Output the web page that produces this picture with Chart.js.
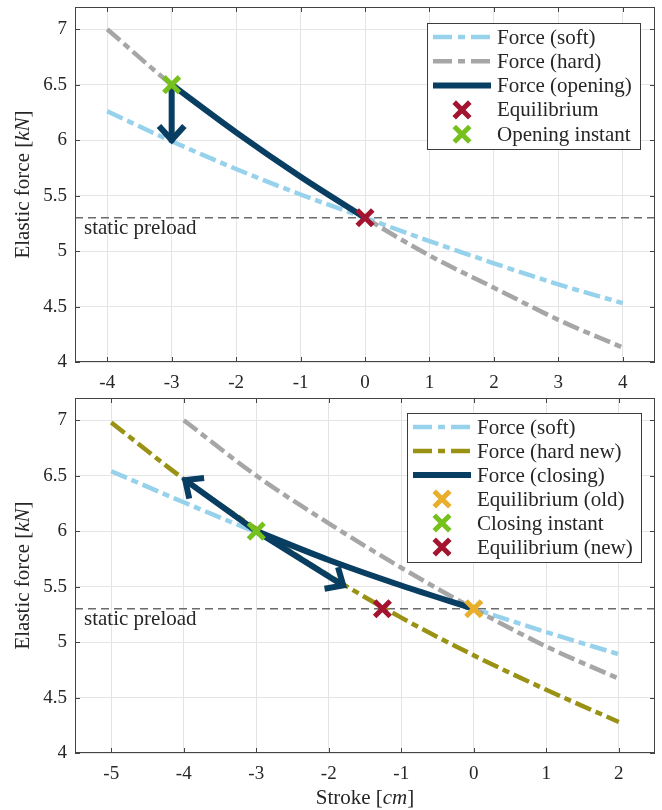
<!DOCTYPE html>
<html><head><meta charset="utf-8">
<script src="https://cdn.jsdelivr.net/npm/chart.js@4/dist/chart.umd.min.js"></script>
<style>
html,body{margin:0;padding:0;background:#fff;}
#wrap{position:relative;width:662px;height:810px;background:#fff;}
#c1{position:absolute;left:0;top:0;}
#c2{position:absolute;left:0;top:395px;}
</style></head><body>
<div id="wrap"><canvas id="c1" width="662" height="395"></canvas><canvas id="c2" width="662" height="415"></canvas></div>
<script>
// ---------- data ----------
const yRange = [4, 7.2];
const yTicks = [4, 4.5, 5, 5.5, 6, 6.5, 7];
const preloadForce = 5.3;

// top panel (opening)
const xRangeTop = [-4.5, 4.5];
const xTicksTop = [-4, -3, -2, -1, 0, 1, 2, 3, 4];
const strokeTop = [-4, -3, -2, -1, 0, 1, 2, 3, 4];
const softTop = [6.26, 5.99, 5.74, 5.51, 5.30, 5.09, 4.89, 4.70, 4.53];
const hardTop = [7.00, 6.50, 6.07, 5.67, 5.30, 4.96, 4.67, 4.38, 4.13];
const openingStroke = [-3, -2, -1, 0];
const openingForce = [6.50, 6.07, 5.67, 5.30];
const openArrowStroke = [-3, -3];
const openArrowForce = [6.50, 6.00];
const equilibriumTop = [0, 5.30];
const openingInstant = [-3, 6.50];

// bottom panel (closing)
const xRangeBottom = [-5.5, 2.5];
const xTicksBottom = [-5, -4, -3, -2, -1, 0, 1, 2];
const strokeBottom = [-5, -4, -3, -2, -1, 0, 1, 2];
const softBottom = [6.54, 6.26, 5.99, 5.74, 5.51, 5.30, 5.09, 4.89];
const hardBottomStroke = [-4, -3, -2, -1, 0, 1, 2];
const hardBottom = [7.00, 6.50, 6.07, 5.67, 5.30, 4.96, 4.67];
const hardNew = [6.98, 6.47, 6.02, 5.60, 5.22, 4.88, 4.57, 4.28];
const closingStroke = [-3, -2, -1, 0];
const closingForce = [6.00, 5.74, 5.51, 5.30];
const closeArrow1Stroke = [-3, -3.98];
const closeArrow1Force = [6.00, 6.46];
const closeArrow2Stroke = [-3, -1.80];
const closeArrow2Force = [6.00, 5.51];
const equilibriumOld = [0, 5.30];
const closingInstant = [-3, 6.00];
const equilibriumNew = [-1.26, 5.30];

// ---------- styling ----------
const FONT = '"Liberation Serif", "Times New Roman", serif';
const C = {soft:'#97D2EC', hard:'#A6A6A6', dark:'#093E63', red:'#A2142F', green:'#77C11E',
           orange:'#E8AE2C', olive:'#9A9214', pre:'#6b6b6b', axis:'#444444', grid:'#e4e4e4', text:'#262626'};
const DASHDOT = [17, 5, 7, 5];

function xy(xs, ys){ return xs.map((x,i)=>({x:x, y:ys[i]})); }
function lineDS(label, data, color, width, dash, rank, extra){
  return Object.assign({label, data, borderColor:color, backgroundColor:color, borderWidth:width,
    borderDash:dash||[], borderCapStyle:'butt', borderJoinStyle:'round', pointRadius:0, pointHoverRadius:0, fill:false,
    cubicInterpolationMode:'monotone', legendRank:rank}, extra||{});
}
function markerDS(label, pt, color, rank){
  return {label, data:[{x:pt[0], y:pt[1]}], showLine:false, pointStyle:'crossRot', pointRadius:11,
    pointHoverRadius:11, pointBorderWidth:5, pointHoverBorderWidth:5, pointBorderColor:color, pointBackgroundColor:color,
    borderColor:color, legendRank:rank, isMarker:true};
}
function withOrder(list){ list.forEach((d,i)=>{ d.order = -i; }); return list; }

// arrow heads drawn right after their dataset, in scale coordinates
const arrowPlugin = {
  id:'arrowHeads',
  afterDatasetDraw(chart, args){
    const ds = chart.data.datasets[args.index];
    if (!ds.arrowHead) return;
    const xs = chart.scales.x, ys = chart.scales.y;
    const p0 = ds.data[ds.data.length-2], p1 = ds.data[ds.data.length-1];
    const x0 = xs.getPixelForValue(p0.x), y0 = ys.getPixelForValue(p0.y);
    const x1 = xs.getPixelForValue(p1.x), y1 = ys.getPixelForValue(p1.y);
    let dx = x0-x1, dy = y0-y1; const L = Math.hypot(dx,dy); dx/=L; dy/=L;
    const a = 42*Math.PI/180, len = 19;
    const r = (ang)=>({x: dx*Math.cos(ang)-dy*Math.sin(ang), y: dx*Math.sin(ang)+dy*Math.cos(ang)});
    const u = r(a), v = r(-a);
    const ctx = chart.ctx;
    ctx.save();
    ctx.strokeStyle = ds.borderColor; ctx.lineWidth = ds.borderWidth;
    ctx.lineJoin = 'miter'; ctx.lineCap = 'butt'; ctx.setLineDash([]);
    ctx.beginPath();
    ctx.moveTo(x1+u.x*len, y1+u.y*len); ctx.lineTo(x1, y1); ctx.lineTo(x1+v.x*len, y1+v.y*len);
    ctx.stroke();
    ctx.restore();
  }
};

function drawMixed(ctx, parts, x, y, align){
  let total = 0;
  parts.forEach(p=>{ ctx.font = p[1]; p.w = ctx.measureText(p[0]).width; total += p.w; });
  let cx = align==='center' ? x - total/2 : x;
  ctx.textAlign = 'left';
  parts.forEach(p=>{ ctx.font = p[1]; ctx.fillText(p[0], cx, y); cx += p.w; });
}

const decoPlugin = {
  id:'deco',
  afterDatasetsDraw(chart, args, opts){
    const ctx = chart.ctx, ca = chart.chartArea, xs = chart.scales.x, ys = chart.scales.y;
    ctx.save();
    // box and inward ticks
    ctx.strokeStyle = C.axis; ctx.lineWidth = 1; ctx.setLineDash([]);
    ctx.strokeRect(Math.round(ca.left)+0.5, Math.round(ca.top)+0.5, Math.round(ca.right-ca.left)-1, Math.round(ca.bottom-ca.top)-1);
    ctx.beginPath();
    xs.ticks.forEach(t=>{ const px = Math.round(xs.getPixelForValue(t.value))+0.5;
      ctx.moveTo(px, ca.bottom); ctx.lineTo(px, ca.bottom-5); ctx.moveTo(px, ca.top); ctx.lineTo(px, ca.top+5); });
    ys.ticks.forEach(t=>{ const py = Math.round(ys.getPixelForValue(t.value))+0.5;
      ctx.moveTo(ca.left, py); ctx.lineTo(ca.left+5, py); ctx.moveTo(ca.right, py); ctx.lineTo(ca.right-5, py); });
    ctx.stroke();
    // preload label
    ctx.fillStyle = C.text; ctx.font = '21px ' + FONT; ctx.textBaseline = 'alphabetic'; ctx.textAlign = 'left';
    ctx.fillText('static preload', ca.left + 9, ys.getPixelForValue(preloadForce) + 16);
    // y title
    ctx.save();
    ctx.translate(28.5, (ca.top+ca.bottom)/2);
    ctx.rotate(-Math.PI/2);
    drawMixed(ctx, [['Elastic force [', '21px '+FONT], ['kN', 'italic 21px '+FONT], [']', '21px '+FONT]], 0, 0, 'center');
    ctx.restore();
    if (opts.xTitle){
      drawMixed(ctx, [['Stroke [', '21px '+FONT], ['cm', 'italic 21px '+FONT], [']', '21px '+FONT]],
        (ca.left+ca.right)/2, opts.xTitleY, 'center');
    }
    ctx.restore();
  }
};

const legendPlugin = {
  id:'mlegend',
  afterDatasetsDraw(chart, args, o){
    const ctx = chart.ctx, ca = chart.chartArea;
    const items = chart.data.datasets.filter(d=>d.legendRank!=null).sort((a,b)=>a.legendRank-b.legendRank);
    ctx.save();
    ctx.font = '21px ' + FONT;
    const maxW = Math.max(...items.map(d=>ctx.measureText(d.label).width));
    const padL = 6, sampleL = 58, gap = 6, padR = 8;
    const w = Math.round(padL + sampleL + gap + maxW + padR);
    const right = Math.round(ca.right - o.offsetRight);
    const left = right - w;
    const top = Math.round(ca.top + o.offsetTop);
    const h = Math.round(o.padTop + o.rowH*(items.length-1) + o.padBottom);
    ctx.fillStyle = '#fff'; ctx.fillRect(left, top, w, h);
    ctx.strokeStyle = '#3c3c3c'; ctx.lineWidth = 1; ctx.setLineDash([]);
    ctx.strokeRect(left+0.5, top+0.5, w, h);
    items.forEach((d,i)=>{
      const cy = top + o.padTop + i*o.rowH;
      const sx = left + padL;
      if (d.isMarker){
        const cx = sx + sampleL/2, s = 11*Math.SQRT1_2;
        ctx.strokeStyle = d.pointBorderColor; ctx.lineWidth = 5; ctx.lineCap = 'butt'; ctx.setLineDash([]);
        ctx.beginPath(); ctx.moveTo(cx-s, cy-s); ctx.lineTo(cx+s, cy+s); ctx.moveTo(cx-s, cy+s); ctx.lineTo(cx+s, cy-s); ctx.stroke();
      } else {
        ctx.strokeStyle = d.borderColor; ctx.lineWidth = d.borderWidth; ctx.lineCap = 'butt'; ctx.setLineDash([19, 6, 7, 6]);
        if (!d.borderDash || !d.borderDash.length) ctx.setLineDash([]);
        ctx.beginPath(); ctx.moveTo(sx, cy); ctx.lineTo(sx+sampleL, cy); ctx.stroke();
      }
      ctx.setLineDash([]);
      ctx.fillStyle = C.text; ctx.font = '21px ' + FONT; ctx.textBaseline = 'middle'; ctx.textAlign = 'left';
      ctx.fillText(d.label, sx + sampleL + gap, cy + 1);
    });
    ctx.restore();
  }
};

function zeroPad(s){ s.paddingTop = 0; s.paddingBottom = 0; s.paddingLeft = 0; s.paddingRight = 0; }

function makeChart(id, datasets, xr, xt, pad, xAxisH, legendOpts, decoOpts){
  return new Chart(document.getElementById(id), {
    type:'line',
    data:{datasets},
    options:{
      responsive:false, animation:false, events:[],
      layout:{padding:pad, autoPadding:false},
      plugins:{legend:{display:false}, tooltip:{enabled:false}, mlegend:legendOpts, deco:decoOpts},
      scales:{
        x:{type:'linear', min:xr[0], max:xr[1],
           afterBuildTicks:s=>{ s.ticks = xt.map(v=>({value:v})); },
           afterFit:s=>{ s.height = xAxisH; zeroPad(s); },
           grid:{color:C.grid, drawTicks:false, lineWidth:1}, border:{display:false},
           ticks:{font:{family:FONT, size:19}, color:C.text, padding:10, maxRotation:0, autoSkip:false, callback:v=>String(v)}},
        y:{type:'linear', min:yRange[0], max:yRange[1],
           afterBuildTicks:s=>{ s.ticks = yTicks.map(v=>({value:v})); },
           afterFit:s=>{ s.width = 75; zeroPad(s); },
           grid:{color:C.grid, drawTicks:false, lineWidth:1}, border:{display:false},
           ticks:{font:{family:FONT, size:19}, color:C.text, padding:8, callback:v=>String(v)}}
      }
    },
    plugins:[arrowPlugin, decoPlugin, legendPlugin]
  });
}

// top chart
const topSets = withOrder([
  lineDS('static preload', xRangeTop.map(x=>({x, y:preloadForce})), C.pre, 1.5, [8,5], null),
  lineDS('Force (soft)', xy(strokeTop, softTop), C.soft, 4.5, DASHDOT, 1),
  lineDS('Force (hard)', xy(strokeTop, hardTop), C.hard, 4.5, DASHDOT, 2),
  lineDS('Force (opening)', xy(openingStroke, openingForce), C.dark, 6, [], 3),
  lineDS('opening arrow', xy(openArrowStroke, openArrowForce), C.dark, 6, [], null, {arrowHead:true, cubicInterpolationMode:'default', tension:0}),
  markerDS('Equilibrium', equilibriumTop, C.red, 4),
  markerDS('Opening instant', openingInstant, C.green, 5)
]);
makeChart('c1', topSets, xRangeTop, xTicksTop, {top:7, right:7, left:0, bottom:0}, 33,
  {offsetRight:15, offsetTop:16, padTop:14, rowH:24.3, padBottom:15}, {xTitle:false});

// bottom chart
const bottomSets = withOrder([
  lineDS('static preload', xRangeBottom.map(x=>({x, y:preloadForce})), C.pre, 1.5, [8,5], null),
  lineDS('Force (soft)', xy(strokeBottom, softBottom), C.soft, 4.5, DASHDOT, 1),
  lineDS('Force (hard)', xy(hardBottomStroke, hardBottom), C.hard, 4.5, DASHDOT, null),
  lineDS('Force (hard new)', xy(strokeBottom, hardNew), C.olive, 4.5, DASHDOT, 2),
  lineDS('Force (closing)', xy(closingStroke, closingForce), C.dark, 6, [], 3),
  lineDS('closing arrow 1', xy(closeArrow1Stroke, closeArrow1Force), C.dark, 6, [], null, {arrowHead:true, cubicInterpolationMode:'default', tension:0}),
  lineDS('closing arrow 2', xy(closeArrow2Stroke, closeArrow2Force), C.dark, 6, [], null, {arrowHead:true, cubicInterpolationMode:'default', tension:0}),
  markerDS('Equilibrium (old)', equilibriumOld, C.orange, 4),
  markerDS('Closing instant', closingInstant, C.green, 5),
  markerDS('Equilibrium (new)', equilibriumNew, C.red, 6)
]);
makeChart('c2', bottomSets, xRangeBottom, xTicksBottom, {top:3, right:7, left:0, bottom:0}, 57,
  {offsetRight:14, offsetTop:15, padTop:14, rowH:24, padBottom:15}, {xTitle:true, xTitleY:409});
</script>
</body></html>
